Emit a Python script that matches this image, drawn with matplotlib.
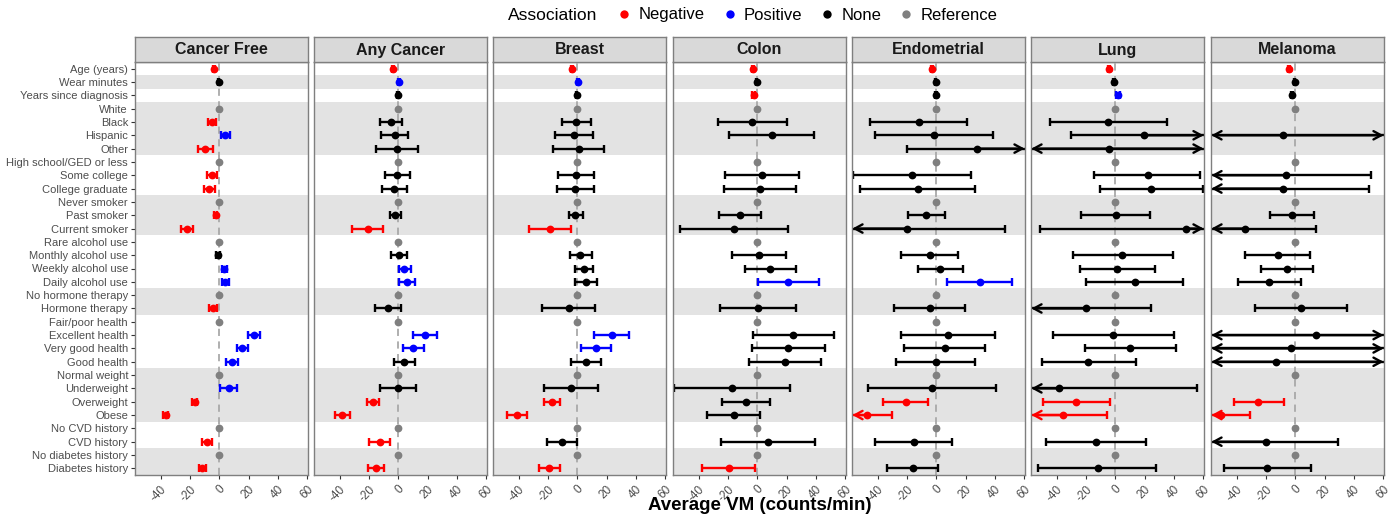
import numpy as np
import matplotlib.pyplot as plt
from matplotlib.lines import Line2D

plt.rcParams['font.family'] = ['Liberation Sans', 'DejaVu Sans']
plt.rcParams['axes.unicode_minus'] = False

nan = np.nan

rows = ["Age (years)", "Wear minutes", "Years since diagnosis",
        "White", "Black", "Hispanic", "Other",
        "High school/GED or less", "Some college", "College graduate",
        "Never smoker", "Past smoker", "Current smoker",
        "Rare alcohol use", "Monthly alcohol use", "Weekly alcohol use", "Daily alcohol use",
        "No hormone therapy", "Hormone therapy",
        "Fair/poor health", "Excellent health", "Very good health", "Good health",
        "Normal weight", "Underweight", "Overweight", "Obese",
        "No CVD history", "CVD history",
        "No diabetes history", "Diabetes history"]
shaded_rows = [1, 3, 4, 5, 6, 10, 11, 12, 17, 18, 23, 24, 25, 26, 29, 30]

panels = ["Cancer Free", "Any Cancer", "Breast", "Colon", "Endometrial", "Lung", "Melanoma"]

# CI bounds of +-75 mean the interval runs past the plotted range (drawn as arrows)
cf_est = [-3.5, -0.5, nan, 0, -5.0, 4.2, -9.7, 0, -5.1, -6.9, 0, -2.3, -22.0, 0, -0.7, 3.5, 4.2,
          0, -4.4, 0, 23.8, 15.7, 8.6, 0, 6.5, -16.7, -36.6, 0, -8.3, 0, -11.6]
cf_lo = [-4.3, -1.0, nan, 0, -7.6, 1.0, -14.4, 0, -8.1, -10.4, 0, -3.3, -26.0, 0, -2.2, 2.0, 1.6,
         0, -7.0, 0, 19.7, 12.0, 4.6, 0, 0.7, -18.3, -38.3, 0, -11.6, 0, -14.0]
cf_hi = [-2.7, 0.0, nan, 0, -2.3, 7.6, -4.4, 0, -1.6, -3.2, 0, -1.3, -17.8, 0, 0.8, 5.0, 6.5,
         0, -1.9, 0, 28.0, 19.7, 12.5, 0, 11.8, -15.1, -34.8, 0, -5.1, 0, -9.2]
cf_grp = ["neg", "none", "", "ref", "neg", "pos", "neg", "ref", "neg", "neg", "ref", "neg", "neg",
          "ref", "none", "pos", "pos", "ref", "neg", "ref", "pos", "pos", "pos", "ref", "pos", "neg",
          "neg", "ref", "neg", "ref", "neg"]

ac_est = [-3.9, 0.3, -0.5, 0, -5.3, -2.5, -0.9, 0, -0.7, -2.8, 0, -2.1, -21.0, 0, 0.5, 4.2, 5.6,
          0, -7.2, 0, 18.0, 10.2, 4.2, 0, -0.5, -17.4, -38.2, 0, -12.7, 0, -15.0]
ac_lo = [-4.6, -0.3, -1.2, 0, -12.5, -11.8, -15.0, 0, -9.0, -11.3, 0, -6.0, -31.7, 0, -4.9, 0.3, 0.2,
         0, -15.7, 0, 9.7, 3.0, -2.8, 0, -12.7, -21.3, -43.0, 0, -20.0, 0, -20.6]
ac_hi = [-3.2, 0.9, 0.2, 0, 2.3, 6.9, 13.4, 0, 8.1, 6.0, 0, 1.6, -10.2, 0, 5.6, 8.6, 11.1,
         0, 1.9, 0, 26.4, 17.4, 11.1, 0, 12.0, -13.4, -32.9, 0, -5.6, 0, -9.7]
ac_grp = ["neg", "pos", "none", "ref", "none", "none", "none", "ref", "none", "none", "ref", "none",
          "neg", "ref", "none", "pos", "pos", "ref", "none", "ref", "pos", "pos", "none", "ref", "none",
          "neg", "neg", "ref", "neg", "ref", "neg"]

br_est = [-3.7, 0.3, -0.5, 0, -0.9, -2.5, 0.9, 0, -0.9, -1.4, 0, -1.4, -18.8, 0, 2.1, 4.4, 6.0,
          0, -6.0, 0, 23.6, 12.5, 6.0, 0, -4.2, -17.4, -41.0, 0, -10.4, 0, -19.0]
br_lo = [-4.4, -0.3, -1.1, 0, -10.6, -15.5, -16.9, 0, -13.4, -13.7, 0, -6.0, -32.9, 0, -5.3, -1.6, -1.4,
         0, -24.0, 0, 11.6, 2.8, -4.2, 0, -22.5, -23.0, -48.0, 0, -20.8, 0, -26.0]
br_hi = [-3.0, 0.9, 0.1, 0, 9.5, 10.4, 18.5, 0, 11.3, 11.1, 0, 3.7, -4.2, 0, 9.7, 10.4, 13.4,
         0, 12.3, 0, 35.4, 22.9, 16.2, 0, 14.4, -11.6, -34.0, 0, -0.5, 0, -12.0]
br_grp = ["neg", "pos", "none", "ref", "none", "none", "none", "ref", "none", "none", "ref", "none",
          "neg", "ref", "none", "none", "none", "ref", "none", "ref", "pos", "pos", "none", "ref", "none",
          "neg", "neg", "ref", "none", "ref", "neg"]

co_est = [-2.8, -0.5, -2.5, 0, -3.5, 10.0, nan, 0, 3.0, 1.6, 0, -12.0, -15.7, 0, 0.9, 8.8, 20.8,
          0, 0.2, 0, 24.5, 21.0, 19.2, 0, -17.1, -7.4, -15.7, 0, 7.6, 0, -19.4]
co_lo = [-3.6, -1.1, -3.3, 0, -27.0, -19.2, nan, 0, -22.2, -23.0, 0, -26.2, -52.5, 0, -17.1, -8.6, 0.2,
         0, -25.7, 0, -3.2, -3.9, -5.6, 0, -56.5, -24.0, -34.0, 0, -24.8, 0, -37.5]
co_hi = [-2.0, 0.1, -1.7, 0, 20.0, 38.9, nan, 0, 28.2, 26.6, 0, 2.3, 20.8, 0, 19.4, 26.4, 42.4,
         0, 26.4, 0, 52.3, 46.5, 43.5, 0, 22.5, 9.0, 2.1, 0, 39.6, 0, -1.6]
co_grp = ["neg", "none", "neg", "ref", "none", "none", "", "ref", "none", "none", "ref", "none",
          "none", "ref", "none", "none", "pos", "ref", "none", "ref", "none", "none", "none", "ref", "none",
          "none", "none", "ref", "none", "ref", "neg"]

en_est = [-2.8, -0.5, 0.0, 0, -12.0, -1.6, 27.5, 0, -16.4, -12.5, 0, -6.9, -20.0, 0, -4.6, 2.8, 29.6,
          0, -4.6, 0, 7.9, 5.6, -0.5, 0, -3.2, -20.8, -47.2, 0, -15.5, 0, -16.2]
en_lo = [-3.6, -1.1, -0.6, 0, -45.0, -42.0, -19.7, 0, -56.5, -52.0, 0, -19.4, -75, 0, -24.0, -12.3, 7.2,
         0, -28.7, 0, -24.3, -22.2, -27.5, 0, -46.8, -36.1, -75, 0, -41.7, 0, -33.8]
en_hi = [-2.0, 0.1, 0.6, 0, 20.6, 38.4, 75, 0, 23.4, 26.2, 0, 6.0, 46.8, 0, 14.6, 18.0, 51.6,
         0, 19.4, 0, 39.8, 33.3, 26.2, 0, 40.5, -5.8, -30.0, 0, 10.6, 0, 1.4]
en_grp = ["neg", "none", "none", "ref", "none", "none", "none", "ref", "none", "none", "ref", "none",
          "none", "ref", "none", "none", "pos", "ref", "none", "ref", "none", "none", "none", "ref", "none",
          "neg", "neg", "ref", "none", "ref", "none"]

lu_est = [-4.4, -0.9, 1.9, 0, -4.9, 19.7, -4.4, 0, 22.0, 24.5, 0, 0.2, 47.9, 0, 4.9, 1.4, 13.2,
          0, -19.9, 0, -1.6, 10.2, -18.3, 0, -38.2, -26.6, -35.4, 0, -13.2, 0, -12.0]
lu_lo = [-5.2, -1.5, 0.5, 0, -44.2, -29.9, -75, 0, -14.4, -10.6, 0, -23.4, -51.4, 0, -28.7, -23.8, -20.1,
         0, -75, 0, -42.8, -20.8, -50.2, 0, -75, -49.0, -75, 0, -47.2, 0, -52.5]
lu_hi = [-3.6, -0.3, 3.3, 0, 35.0, 75, 75, 0, 58.0, 59.5, 0, 23.8, 75, 0, 39.1, 26.9, 46.3,
         0, 24.5, 0, 40.0, 41.7, 14.1, 0, 55.6, -3.9, -5.6, 0, 20.8, 0, 28.0]
lu_grp = ["neg", "none", "pos", "ref", "none", "none", "none", "ref", "none", "none", "ref", "none",
          "none", "ref", "none", "none", "none", "ref", "none", "ref", "none", "none", "none", "ref", "none",
          "neg", "neg", "ref", "none", "ref", "none"]

me_est = [-4.2, -0.5, -2.3, 0, nan, -8.3, nan, 0, -6.5, -8.3, 0, -2.3, -34.3, 0, -11.6, -5.8, -17.6,
          0, 3.7, 0, 13.9, -2.8, -13.0, 0, nan, -25.2, -50.7, 0, -19.9, 0, -19.0]
me_lo = [-5.0, -1.1, -3.2, 0, nan, -75, nan, 0, -75, -75, 0, -17.1, -75, 0, -34.0, -23.6, -39.1,
         0, -27.8, 0, -75, -75, -75, 0, nan, -42.1, -75, 0, -75, 0, -48.4]
me_hi = [-3.4, 0.1, -1.4, 0, nan, 75, nan, 0, 51.9, 50.2, 0, 13.0, 13.9, 0, 10.2, 12.3, 4.2,
         0, 35.6, 0, 75, 75, 75, 0, nan, -7.6, -30.8, 0, 29.2, 0, 10.4]
me_grp = ["neg", "none", "none", "ref", "", "none", "", "ref", "none", "none", "ref", "none",
          "none", "ref", "none", "none", "none", "ref", "none", "ref", "none", "none", "none", "ref", "",
          "neg", "neg", "ref", "none", "ref", "none"]

panel_data = [(cf_est, cf_lo, cf_hi, cf_grp), (ac_est, ac_lo, ac_hi, ac_grp),
              (br_est, br_lo, br_hi, br_grp), (co_est, co_lo, co_hi, co_grp),
              (en_est, en_lo, en_hi, en_grp), (lu_est, lu_lo, lu_hi, lu_grp),
              (me_est, me_lo, me_hi, me_grp)]

colors = {"neg": "#ff0000", "pos": "#0000ff", "none": "#000000", "ref": "#808080"}
legend_names = [("neg", "Negative"), ("pos", "Positive"), ("none", "None"), ("ref", "Reference")]

W, H = 1396, 519
xmin, xmax = -57.5, 60.5
fig = plt.figure(figsize=(W / 100, H / 100), dpi=100)

lefts = [135, 314, 493, 673, 852, 1031, 1211]
pw = 173
ptop, pbot = 62, 475
stop = 37
border = '#7f7f7f'

for k, name in enumerate(panels):
    est, lo, hi, grp = panel_data[k]
    ax = fig.add_axes([lefts[k] / W, 1 - pbot / H, pw / W, (pbot - ptop) / H])
    for r in shaded_rows:
        ax.axhspan(r - 0.5, r + 0.5, color='#e3e3e3', lw=0, zorder=0)
    ax.axvline(0, color='#a9a9a9', ls=(0, (4, 3)), lw=1.3, zorder=1)

    for i in range(len(rows)):
        if np.isnan(est[i]) or grp[i] == "":
            continue
        c = colors[grp[i]]
        if grp[i] != "ref":
            a = max(lo[i], xmin)
            b = min(hi[i], xmax)
            ax.plot([a, b], [i, i], color=c, lw=1.7, zorder=2, solid_capstyle='butt')
            if lo[i] >= xmin:
                ax.plot([lo[i]], [i], marker='|', ms=6, mew=1.7, color=c, zorder=2)
            else:
                ax.annotate('', xy=(xmin + 0.3, i), xytext=(est[i], i), annotation_clip=False,
                            arrowprops=dict(arrowstyle='->,head_length=0.55,head_width=0.3',
                                            color=c, lw=1.7, shrinkA=0, shrinkB=0))
            if hi[i] <= xmax:
                ax.plot([hi[i]], [i], marker='|', ms=6, mew=1.7, color=c, zorder=2)
            else:
                ax.annotate('', xy=(xmax - 0.3, i), xytext=(est[i], i), annotation_clip=False,
                            arrowprops=dict(arrowstyle='->,head_length=0.55,head_width=0.3',
                                            color=c, lw=1.7, shrinkA=0, shrinkB=0))
        ax.plot([est[i]], [i], 'o', ms=5.6, color=c, mec='none', zorder=3)

    ax.set_xlim(xmin, xmax)
    ax.set_ylim(len(rows) - 0.5, -0.5)
    ax.set_xticks([-40, -20, 0, 20, 40, 60])
    ax.set_xticklabels(['-40', '-20', '0', '20', '40', '60'], rotation=45, ha='right', va='top',
                       rotation_mode='anchor', fontsize=8.5, color='#4d4d4d')
    ax.tick_params(axis='x', length=3, color='#333333', pad=3)
    if k == 0:
        ax.set_yticks(range(len(rows)))
        ax.set_yticklabels(rows, fontsize=8, color='#4d4d4d')
        ax.tick_params(axis='y', length=3, color='#333333', pad=2)
    else:
        ax.set_yticks([])
    for s in ax.spines.values():
        s.set_color(border)
        s.set_linewidth(1.0)

    sax = fig.add_axes([lefts[k] / W, 1 - ptop / H, pw / W, (ptop - stop) / H])
    sax.set_facecolor('#d9d9d9')
    sax.set_xticks([])
    sax.set_yticks([])
    for s in sax.spines.values():
        s.set_color(border)
        s.set_linewidth(1.0)
    sax.text(0.5, 0.48, name, ha='center', va='center', fontsize=11.5, fontweight='bold',
             color='#1a1a1a', transform=sax.transAxes)

fig.text(760 / W, 1 - 506 / H, 'Average VM (counts/min)', ha='center', va='center',
         fontsize=13.5, fontweight='bold')

fig.text(508 / W, 1 - 15 / H, 'Association', ha='left', va='center', fontsize=12.5)
handles = [Line2D([], [], ls='none', marker='o', ms=6, color=colors[g], mec='none') for g, _ in legend_names]
fig.legend(handles, [n for _, n in legend_names], loc='center left', ncol=4,
           bbox_to_anchor=(616 / W, 1 - 15 / H), frameon=False, fontsize=12,
           handlelength=1.0, handletextpad=0.35, columnspacing=1.0, borderpad=0, borderaxespad=0)

fig.savefig('out.png', dpi=100)
